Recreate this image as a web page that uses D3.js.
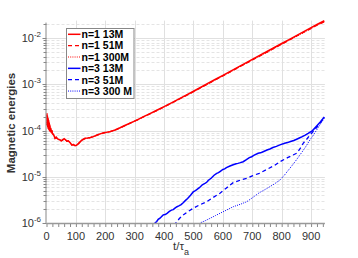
<!DOCTYPE html>
<html><head><meta charset="utf-8">
<script src="https://cdn.jsdelivr.net/npm/d3@7"></script>
<style>body{margin:0;background:#fff}svg{display:block}</style>
</head><body><svg id="c" width="358" height="258"></svg>
<script>
// ---- data ----
const xTicks = [0,100,200,300,400,500,600,700,800,900];
const yTicks = [1e-6,1e-5,1e-4,1e-3,1e-2];
const yTickExp = ["-6","-5","-4","-3","-2"];
const legendLabels = ["n=1 13M","n=1 51M","n=1 300M","n=3 13M","n=3 51M","n=3 300 M"];

const tRed = [0,1,2,3,4,5,6,7,8,9,10,11,12,14,16,18,20,24,29,33,38,42,46,50,55,60,65,69,74,80,86,91,97,102,108,114,120,131,140,150,159,170,182,195,205,216,233,250,270,290,310,330,350,375,400,425,454,475,500,525,550,575,600,625,650,675,700,725,750,775,800,825,850,875,900,920,945];
const red13 = [1.3e-4,2.4e-4,1.4e-4,2.1e-4,1.2e-4,1.9e-4,1.1e-4,1.7e-4,1.05e-4,1.5e-4,1.0e-4,1.35e-4,9.5e-5,1.15e-4,9.0e-5,1.02e-4,8.6e-5,8.2e-5,6.8e-5,7.2e-5,6.6e-5,6.4e-5,6.3e-5,6.0e-5,6.3e-5,6.7e-5,6.3e-5,5.9e-5,6.0e-5,5.5e-5,4.9e-5,5.0e-5,4.7e-5,4.8e-5,5.2e-5,5.7e-5,6.2e-5,6.8e-5,6.9e-5,7.1e-5,7.4e-5,7.9e-5,8.5e-5,9.0e-5,9.2e-5,9.5e-5,1.03e-4,1.15e-4,1.32e-4,1.51e-4,1.73e-4,2.0e-4,2.30e-4,2.75e-4,3.31e-4,3.99e-4,4.98e-4,5.85e-4,7.11e-4,8.67e-4,1.06e-3,1.29e-3,1.57e-3,1.91e-3,2.33e-3,2.84e-3,3.47e-3,4.23e-3,5.15e-3,6.28e-3,7.66e-3,9.33e-3,1.14e-2,1.39e-2,1.69e-2,1.98e-2,2.38e-2];
const red51 = [1.3e-4,2.3e-4,1.5e-4,2.0e-4,1.25e-4,1.8e-4,1.15e-4,1.6e-4,1.1e-4,1.45e-4,1.02e-4,1.3e-4,9.7e-5,1.12e-4,9.2e-5,1.0e-4,8.7e-5,8.1e-5,6.9e-5,7.1e-5,6.6e-5,6.4e-5,6.2e-5,6.0e-5,6.3e-5,6.6e-5,6.3e-5,5.9e-5,5.9e-5,5.5e-5,4.9e-5,5.0e-5,4.7e-5,4.8e-5,5.2e-5,5.6e-5,6.2e-5,6.7e-5,6.9e-5,7.1e-5,7.4e-5,7.9e-5,8.4e-5,8.9e-5,9.2e-5,9.5e-5,1.02e-4,1.14e-4,1.31e-4,1.50e-4,1.71e-4,1.98e-4,2.27e-4,2.71e-4,3.26e-4,3.92e-4,4.88e-4,5.72e-4,6.95e-4,8.46e-4,1.03e-3,1.26e-3,1.53e-3,1.86e-3,2.27e-3,2.76e-3,3.37e-3,4.10e-3,4.99e-3,6.08e-3,7.41e-3,9.01e-3,1.10e-2,1.34e-2,1.62e-2,1.90e-2,2.27e-2];
const red300 = [1.3e-4,2.2e-4,1.45e-4,1.95e-4,1.2e-4,1.75e-4,1.12e-4,1.6e-4,1.08e-4,1.4e-4,1.0e-4,1.3e-4,9.6e-5,1.1e-4,9.1e-5,1.0e-4,8.6e-5,8.0e-5,6.9e-5,7.0e-5,6.6e-5,6.4e-5,6.2e-5,6.0e-5,6.2e-5,6.6e-5,6.2e-5,5.9e-5,5.9e-5,5.4e-5,4.9e-5,4.9e-5,4.7e-5,4.8e-5,5.1e-5,5.6e-5,6.1e-5,6.7e-5,6.8e-5,7.0e-5,7.3e-5,7.8e-5,8.4e-5,8.9e-5,9.1e-5,9.4e-5,1.02e-4,1.14e-4,1.30e-4,1.49e-4,1.70e-4,1.97e-4,2.26e-4,2.70e-4,3.24e-4,3.90e-4,4.85e-4,5.69e-4,6.91e-4,8.42e-4,1.02e-3,1.25e-3,1.52e-3,1.85e-3,2.25e-3,2.74e-3,3.34e-3,4.07e-3,4.95e-3,6.03e-3,7.35e-3,8.94e-3,1.09e-2,1.33e-2,1.61e-2,1.89e-2,2.25e-2];

const tB13 = [360,369,375,380,386,390,397,404,410,418,425,431,437,444,450,458,465,472,480,490,499,505,510,520,530,539,545,550,560,570,579,585,590,600,606,612,624,635,645,651,657,669,680,690,698,705,720,728,735,750,760,770,782,794,810,820,830,841,851,860,870,880,890,905,919,932,945];
const b13 = [9.0e-7,1.0e-6,1.08e-6,1.2e-6,1.28e-6,1.35e-6,1.5e-6,1.52e-6,1.62e-6,1.78e-6,1.9e-6,1.95e-6,2.1e-6,2.25e-6,2.35e-6,2.5e-6,2.75e-6,3.05e-6,3.4e-6,4.0e-6,4.7e-6,4.95e-6,5.2e-6,5.8e-6,6.7e-6,7.2e-6,7.6e-6,8.3e-6,9.3e-6,1.08e-5,1.19e-5,1.23e-5,1.3e-5,1.44e-5,1.48e-5,1.58e-5,1.71e-5,1.82e-5,1.92e-5,1.95e-5,2.0e-5,2.12e-5,2.35e-5,2.6e-5,2.72e-5,2.9e-5,3.23e-5,3.3e-5,3.45e-5,3.8e-5,4.0e-5,4.3e-5,4.55e-5,4.9e-5,5.3e-5,5.5e-5,5.8e-5,6.1e-5,6.5e-5,6.9e-5,7.4e-5,8.0e-5,8.7e-5,1.0e-4,1.26e-4,1.55e-4,1.97e-4];
const tB51 = [432,440,452,465,480,499,520,545,565,590,610,635,660,681,700,724,750,775,794,820,851,862,873,885,896,910,925,945];
const b51 = [9.0e-7,1.0e-6,1.25e-6,1.49e-6,1.75e-6,2.08e-6,2.45e-6,2.89e-6,3.5e-6,4.4e-6,5.6e-6,7.45e-6,8.5e-6,9.3e-6,1.05e-5,1.19e-5,1.45e-5,1.75e-5,2.12e-5,2.6e-5,3.23e-5,4.0e-5,5.3e-5,6.5e-5,8.0e-5,1.0e-4,1.3e-4,1.9e-4];
const tB300 = [515,522,540,556,575,590,612,635,660,681,700,724,750,775,794,810,828,845,862,880,896,908,919,932,945];
const b300 = [9.0e-7,1.0e-6,1.12e-6,1.26e-6,1.45e-6,1.62e-6,1.9e-6,2.25e-6,2.55e-6,2.89e-6,3.5e-6,4.53e-6,5.6e-6,7.0e-6,8.5e-6,1.1e-5,1.53e-5,2.1e-5,2.96e-5,4.3e-5,6.26e-5,8.0e-5,1.03e-4,1.4e-4,1.85e-4];

// ---- chart ----
const svg = d3.select("#c");
const x = d3.scaleLinear().domain([0, 947]).range([46.5, 324.9]);
const y = d3.scaleLog().domain([1e-6, 2.4e-2]).range([223, 20.6]);
const L = x.range()[0], R = x.range()[1], B = y.range()[0], T = y.range()[1];

const grid = svg.append("g");
const minor = [];
for (let e = -6; e <= -2; e++) for (let m = 2; m <= 9; m++) { const v = m * Math.pow(10, e); if (v <= 2.4e-2) minor.push(v); }
grid.selectAll(".mh").data(minor).join("line")
  .attr("x1", L).attr("x2", R).attr("y1", d => Math.round(y(d)) + 0.5).attr("y2", d => Math.round(y(d)) + 0.5)
  .attr("stroke", "#e4e4e4").attr("stroke-dasharray", "3,2");
grid.selectAll(".Mh").data(yTicks).join("line")
  .attr("x1", L).attr("x2", R).attr("y1", d => Math.round(y(d)) + 0.5).attr("y2", d => Math.round(y(d)) + 0.5)
  .attr("stroke", "#e0e0e0");
grid.selectAll(".v").data(xTicks.slice(1)).join("line")
  .attr("y1", T).attr("y2", B).attr("x1", d => Math.round(x(d)) + 0.5).attr("x2", d => Math.round(x(d)) + 0.5)
  .attr("stroke", "#e0e0e0");

// series
svg.append("clipPath").attr("id", "cp").append("rect")
  .attr("x", L).attr("y", 0).attr("width", R - L + 2).attr("height", B);
const line = d3.line().x(d => x(d[0])).y(d => y(d[1]));
const series = [
  {t: tRed, v: red13, c: "#ff0000", dash: null, w: 1.5},
  {t: tRed, v: red51, c: "#ff0000", dash: "4,3", w: 1.3},
  {t: tRed, v: red300, c: "#ff0000", dash: "1,1.2", w: 1},
  {t: tB13, v: b13, c: "#0000ff", dash: null, w: 1.5},
  {t: tB51, v: b51, c: "#0000ff", dash: "4,3", w: 1.3},
  {t: tB300, v: b300, c: "#0000ff", dash: "1,1.2", w: 1}
];
const sg = svg.append("g").attr("clip-path", "url(#cp)");
series.forEach(s => {
  sg.append("path").datum(s.t.map((t, i) => [t, s.v[i]]))
    .attr("d", line).attr("fill", "none").attr("stroke", s.c)
    .attr("stroke-width", s.w).attr("stroke-dasharray", s.dash);
});

// axes
const axisColor = "#888";
const xa = svg.append("g").attr("transform", `translate(0,${B})`)
  .call(d3.axisBottom(x).tickValues(d3.range(0, 941, 20)).tickSize(4).tickFormat(""));
xa.select(".domain").remove();
xa.selectAll("line").attr("stroke", axisColor);
svg.append("line").attr("x1", L).attr("x2", R).attr("y1", B + 0.5).attr("y2", B + 0.5).attr("stroke", "#999").attr("stroke-width", 1.5);
svg.selectAll(".xl").data(xTicks).join("text")
  .attr("x", d => x(d)).attr("y", 239.5).attr("text-anchor", "middle")
  .attr("font-family", "Liberation Sans, Arial, sans-serif").attr("font-size", 11).attr("fill", "#333")
  .text(d => d);

const ya = svg.append("g").attr("transform", `translate(${L},0)`);
ya.append("line").attr("x1", -0.5).attr("x2", -0.5).attr("y1", T + 2).attr("y2", B).attr("stroke", axisColor);
ya.selectAll(".mt").data(minor).join("line")
  .attr("x1", -3).attr("x2", 0).attr("y1", d => Math.round(y(d)) + 0.5).attr("y2", d => Math.round(y(d)) + 0.5).attr("stroke", axisColor);
ya.selectAll(".Mt").data(yTicks).join("line")
  .attr("x1", -4).attr("x2", 0).attr("y1", d => Math.round(y(d)) + 0.5).attr("y2", d => Math.round(y(d)) + 0.5).attr("stroke", axisColor);
const yl = svg.selectAll(".yl").data(yTicks).join("text")
  .attr("x", 41).attr("y", d => y(d) + 4).attr("text-anchor", "end")
  .attr("font-family", "Liberation Sans, Arial, sans-serif").attr("font-size", 11).attr("fill", "#333");
yl.append("tspan").text("10");
yl.append("tspan").attr("dy", -5).attr("font-size", 8).text((d, i) => yTickExp[i]);

// axis titles
svg.append("text").attr("transform", "translate(15,123) rotate(-90)").attr("text-anchor", "middle")
  .attr("font-family", "Liberation Sans, Arial, sans-serif").attr("font-size", 11.5).attr("font-weight", "bold").attr("fill", "#333")
  .text("Magnetic energies");
const xt = svg.append("text").attr("x", 173).attr("y", 250)
  .attr("font-family", "Liberation Sans, Arial, sans-serif").attr("font-size", 11.5).attr("fill", "#333");
xt.append("tspan").text("t/τ");
xt.append("tspan").attr("dy", 5).attr("font-size", 9).text("a");

// legend
const lg = svg.append("g");
lg.append("rect").attr("x", 66.5).attr("y", 28.5).attr("width", 67.5).attr("height", 70)
  .attr("fill", "#fff").attr("stroke", "#888");
series.forEach((s, i) => {
  const cy = 34.3 + i * 11.35;
  lg.append("line").attr("x1", 68).attr("x2", 80.5).attr("y1", cy).attr("y2", cy)
    .attr("stroke", s.c).attr("stroke-width", s.w).attr("stroke-dasharray", s.dash);
  lg.append("text").attr("x", 81.5).attr("y", cy + 3.8)
    .attr("font-family", "Liberation Sans, Arial, sans-serif").attr("font-size", 10.5).attr("font-weight", "bold").attr("fill", "#000")
    .text(legendLabels[i]);
});
</script></body></html>
